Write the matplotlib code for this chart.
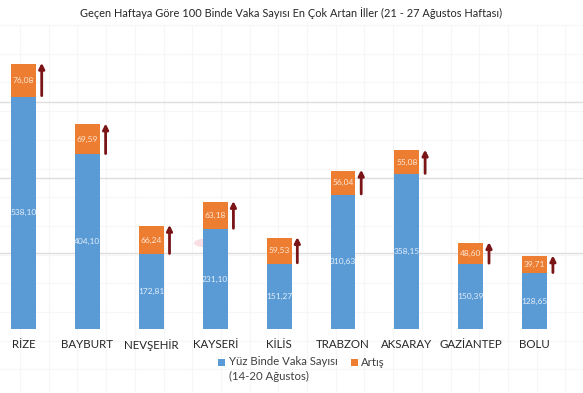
import numpy as np
import matplotlib.pyplot as plt
from matplotlib.patches import Ellipse, Rectangle

# ============================
# Data
# ============================
cities = ['RİZE', 'BAYBURT', 'NEVŞEHİR', 'KAYSERİ', 'KİLİS',
          'TRABZON', 'AKSARAY', 'GAZİANTEP', 'BOLU']
base_vals = [538.10, 404.10, 172.81, 231.10, 151.27, 310.63, 358.15, 150.39, 128.65]
inc_vals = [76.08, 69.59, 66.24, 63.18, 59.53, 56.04, 55.08, 48.60, 39.71]
grid_vals = [175, 350, 525]

title = 'Geçen Haftaya Göre 100 Binde Vaka Sayısı En Çok Artan İller (21 - 27 Ağustos Haftası)'
base_label = 'Yüz Binde Vaka Sayısı\n(14-20 Ağustos)'
inc_label = 'Artış'

blue = '#5b9bd5'
orange = '#ed7d31'
arrow_col = '#7b1416'

plt.rcParams['font.family'] = ['Lato', 'DejaVu Sans']

W, H = 583, 393
fig = plt.figure(figsize=(W / 100, H / 100), dpi=100)

# faint paper grid in the background (pixel coordinates)
bg = fig.add_axes([0, 0, 1, 1], zorder=0)
bg.set_xlim(0, W)
bg.set_ylim(H, 0)
bg.axis('off')
for xv in np.arange(20, W, 28.7):
    bg.plot([xv, xv], [25, H], color='#f6f6f6', lw=0.8, zorder=1)
for yv in np.arange(25, H, 28.7):
    bg.plot([0, W], [yv, yv], color='#f6f6f6', lw=0.8, zorder=1)
bg.add_patch(Ellipse((207, 243), 26, 9, color='#f4c6cc', alpha=0.55, lw=0, zorder=2))

# main axes
bottom_px, top_px = 64, 348
ax = fig.add_axes([0, bottom_px / H, 1, (top_px - bottom_px) / H], zorder=1)
ax.patch.set_alpha(0)
spacing = 63.9
ax.set_xlim(-23.5 / spacing, (W - 23.5) / spacing)
ax.set_ylim(0, (top_px - bottom_px) / 0.432)

x = np.arange(len(cities))
bw = 0.39
ax.bar(x, base_vals, bw, color=blue, zorder=3)
ax.bar(x, inc_vals, bw, bottom=base_vals, color=orange, zorder=3)

for xi, b, d in zip(x, base_vals, inc_vals):
    ax.text(xi, b / 2, f'{b:.2f}'.replace('.', ','), ha='center', va='center',
            color='#e3eef9', fontsize=6.0, zorder=4)
    ax.text(xi, b + d / 2, f'{d:.2f}'.replace('.', ','), ha='center', va='center',
            color='#fde8d8', fontsize=6.0, zorder=4)
    ax.annotate('', xy=(xi + 0.285, b + d + 2), xytext=(xi + 0.285, b + 2),
                arrowprops=dict(arrowstyle='-|>', color=arrow_col, lw=2.0,
                                mutation_scale=8, shrinkA=0, shrinkB=0),
                zorder=4)

ax.set_yticks(grid_vals)
ax.yaxis.grid(True, color='#dedede', lw=1.0, zorder=0)
ax.tick_params(axis='y', left=False, labelleft=False)
ax.set_xticks(x)
ax.set_xticklabels(cities, fontsize=8.3, color='#262626')
ax.tick_params(axis='x', length=0, pad=7)
for s in ax.spines.values():
    s.set_visible(False)

fig.text(0.5, 1 - 13 / H, title, ha='center', va='center', fontsize=7.9, color='#262626')

# legend drawn by hand so the marker sits on the first text line
bg.add_patch(Rectangle((218, 359), 7, 7, color=blue, lw=0, zorder=5))
bg.text(229, 356, base_label, ha='left', va='top', fontsize=8.2, color='#404040',
        linespacing=1.4, zorder=5)
bg.add_patch(Rectangle((351, 359), 7, 7, color=orange, lw=0, zorder=5))
bg.text(361, 362.5, inc_label, ha='left', va='center', fontsize=8.2, color='#404040',
        zorder=5)

plt.savefig('out.png', dpi=100)
